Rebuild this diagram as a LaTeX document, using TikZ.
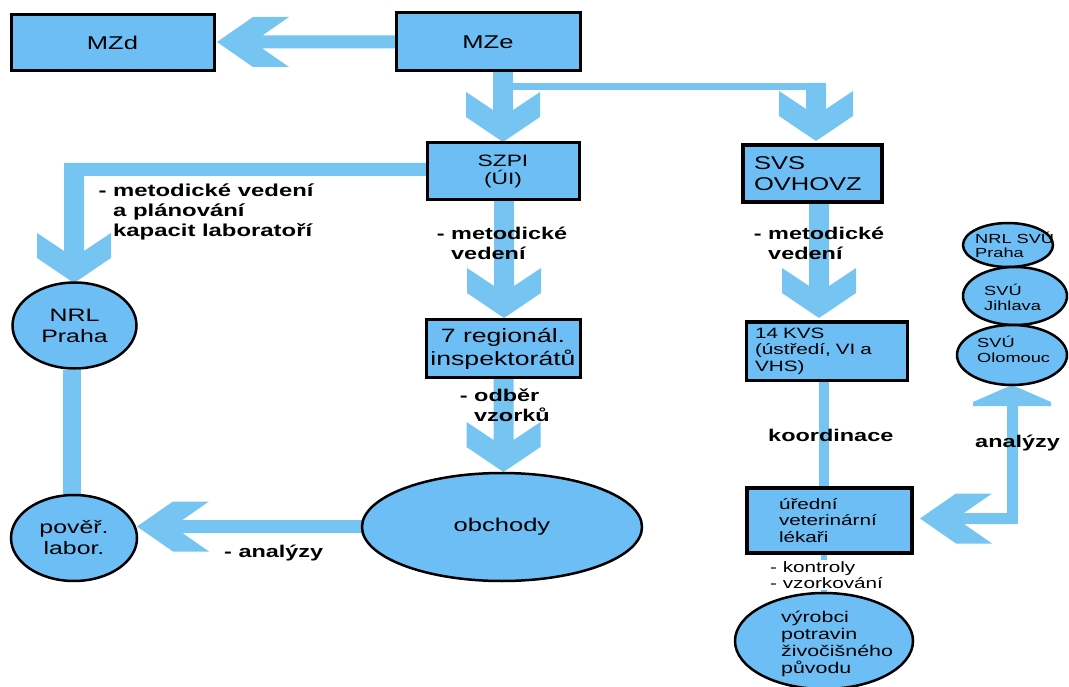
\documentclass[tikz,border=0pt]{standalone}
\usepackage{fontspec}
\setmainfont{Liberation Sans}[FakeStretch=1.38]
\usetikzlibrary{backgrounds,shapes.geometric}
\definecolor{boxfill}{RGB}{108,190,245}
\definecolor{arrowcol}{RGB}{118,196,242}
\newcommand{\fsz}[2]{\fontsize{#1}{#2}\selectfont}
% down block arrow: #1 centre x, #2 shaft start y, #3 tip y
\newcommand{\blkdown}[3]{\fill[arrowcol] ({#1-10},#2) -- ({#1-10},{#3-32}) -- ({#1-37},{#3-50}) -- ({#1-37},{#3-25}) -- (#1,#3) -- ({#1+37},{#3-25}) -- ({#1+37},{#3-50}) -- ({#1+10},{#3-32}) -- ({#1+10},#2) -- cycle;}
% left block arrow: #1 shaft start x, #2 centre y, #3 tip x, #4 half thickness
\newcommand{\blkleft}[4]{\pgfmathsetmacro\blknx{#3+72-(25-#4)*36/25}%
\fill[arrowcol] (#1,{#2-#4}) -- (\blknx,{#2-#4}) -- ({#3+72},{#2-25}) -- ({#3+36},{#2-25}) -- (#3,#2) -- ({#3+36},{#2+25}) -- ({#3+72},{#2+25}) -- (\blknx,{#2+#4}) -- (#1,{#2+#4}) -- cycle;}
\begin{document}
\begin{tikzpicture}[x=1pt,y=-1pt,
  box/.style={draw=black, line width=3pt, fill=boxfill, inner sep=0pt},
  ell/.style={draw=black, line width=2.5pt, fill=boxfill, ellipse, inner sep=0pt},
  lbl/.style={inner sep=0pt, align=left},
  bar/.style={draw=arrowcol}]
\useasboundingbox (0,0) rectangle (1069,687);

% boxes
\node[box, minimum width=203pt, minimum height=56pt, font=\fsz{18.5}{22}] (mzd) at (112.5,43) {MZd};
\node[box, minimum width=184pt, minimum height=58pt, font=\fsz{18.5}{22}] (mze) at (488,42) {MZe};
\node[box, minimum width=152pt, minimum height=57pt, align=center, font=\fsz{16.5}{18.5}] (szpi) at (503,171.5) {SZPI\\(ÚI)};
\node[box, line width=3.5pt, minimum width=139pt, minimum height=57pt, inner xsep=11pt, text width=117pt, align=left, font=\fsz{18.5}{21}] (svs) at (812.5,173.5) {SVS\\OVHOVZ};
\node[box, minimum width=154pt, minimum height=57pt, align=center, font=\fsz{19.3}{23}] (reg) at (503,348.5) {7 regionál.\\inspektorátů};
\node[box, minimum width=161pt, minimum height=58pt, inner xsep=9pt, text width=143pt, align=left, font=\fsz{15}{16.5}] (kvs) at (826.5,351) {14 KVS\\(ústředí, VI a\\VHS)};
\node[box, line width=3.5pt, minimum width=165pt, minimum height=65pt, inner xsep=32pt, text width=101pt, align=left, font=\fsz{15}{16.7}] (ured) at (829.5,520.5) {úřední\\veterinární\\lékaři};

% ellipses
\node[ell, minimum width=124pt, minimum height=86pt, align=center, font=\fsz{18}{21}] (nrl) at (74.5,325.5) {NRL\\Praha};
\node[ell, minimum width=126pt, minimum height=86pt, align=center, font=\fsz{18}{21}] (pov) at (74,538) {pověř.\\labor.};
\node[ell, minimum width=280pt, minimum height=108pt, font=\fsz{18.5}{22}] (obch) at (502,527) {obchody};
\node[ell, minimum width=178pt, minimum height=96pt] (vyr) at (824,641) {};
\node[ell, minimum width=90pt, minimum height=44pt] (svu1) at (1008,245) {};
\node[ell, minimum width=104pt, minimum height=58pt] (svu2) at (1015,296) {};
\node[ell, minimum width=110pt, minimum height=60pt] (svu3) at (1012,355) {};

\node[lbl, anchor=west, font=\fsz{15.5}{17}] (vyrt) at (781,643.5) {výrobci\\potravin\\živočišného\\původu};
\node[lbl, anchor=west, font=\fsz{13.2}{14.5}] (svu1t) at (975,245) {NRL SVÚ\\Praha};
\node[lbl, anchor=west, font=\fsz{13.2}{15}] (svu2t) at (984,297.5) {SVÚ\\Jihlava};
\node[lbl, anchor=west, font=\fsz{13.2}{15}] (svu3t) at (977,349.5) {SVÚ\\Olomouc};

% block arrows and bars behind
\begin{scope}[on background layer]
\blkleft{397}{42}{217}{6.5}
\blkdown{503}{70}{142}
\fill[arrowcol] (503,83) rectangle (826,90);
\blkdown{816}{83}{141}
\blkdown{504}{199}{318}
\blkdown{819}{201}{318}
\blkdown{503.5}{376}{472}
\blkleft{363}{526.5}{137}{6.5}
\fill[arrowcol] (428,163) -- (64,163) -- (64,251) -- (37,233) -- (37,258) -- (74,283) -- (111,258) -- (111,233) -- (84,251) -- (84,176) -- (428,176) -- cycle;
\fill[arrowcol] (1006.5,404) rectangle (1017.5,524);
\fill[arrowcol] (1012,385) -- (1051,402) -- (1051,406) -- (973,406) -- (973,402) -- cycle;
\blkleft{1017.5}{518.5}{920}{5.5}
\draw[bar, line width=18pt] ([xshift=-3pt]nrl.south) -- ([xshift=-3pt]nrl.south |- pov.north);
\draw[bar, line width=10pt, line cap=round] ([xshift=-2.5pt]kvs.south) -- ([xshift=-2.5pt]kvs.south |- ured.north);
\draw[bar, line width=6pt] (vyr.north |- ured.south) -- (vyr.north);
\end{scope}

% labels
\node[lbl, anchor=west, font=\bfseries\fsz{17.3}{20}] (lab1) at (113,212) {\llap{- }metodické vedení\\a plánování\\kapacit laboratoří};
\node[lbl, anchor=west, font=\bfseries\fsz{17}{20}] (lab2) at (451,243) {\llap{- }metodické\\vedení};
\node[lbl, anchor=west, font=\bfseries\fsz{17}{20}] (lab3) at (768,243) {\llap{- }metodické\\vedení};
\node[lbl, anchor=west, font=\bfseries\fsz{17}{20}] (lab4) at (474,405) {\llap{- }odběr\\vzorků};
\node[lbl, anchor=west, font=\bfseries\fsz{17}{20}] (lab5) at (224,553) {- analýzy};
\node[lbl, anchor=west, font=\bfseries\fsz{17}{20}] (lab6) at (768,435) {koordinace};
\node[lbl, anchor=west, font=\bfseries\fsz{17}{20}] (lab7) at (975,443) {analýzy};
\node[lbl, anchor=west, fill=white, inner ysep=1pt, font=\fsz{15}{16}] (lab8) at (770,575) {- kontroly\\- vzorkování};
\end{tikzpicture}
\end{document}
